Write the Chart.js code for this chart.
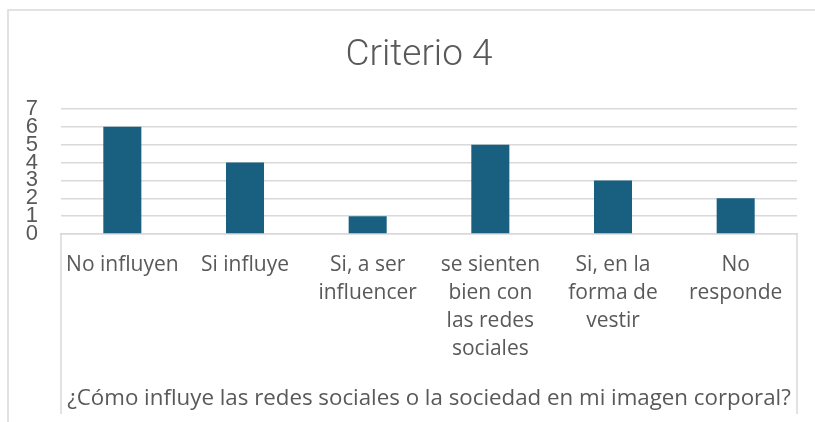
<!DOCTYPE html>
<html>
<head>
<meta charset="utf-8">
<script src="https://cdn.jsdelivr.net/npm/chart.js@4/dist/chart.umd.min.js"></script>
<style>
html, body { margin: 0; padding: 0; background: #fff; }
</style>
</head>
<body>
<canvas id="grafic" width="815" height="422"></canvas>
<script>
const titlu = 'Criterio 4';
const categorii = [
    ['No influyen'],
    ['Si influye'],
    ['Si, a ser', 'influencer'],
    ['se sienten', 'bien con', 'las redes', 'sociales'],
    ['Si, en la', 'forma de', 'vestir'],
    ['No', 'responde']
];
const valori = [6, 4, 1, 5, 3, 2];
const ticksY = [0, 1, 2, 3, 4, 5, 6, 7];

const gri = '#d9d9d9';
const text = '#595959';

// chenarul graficului, titlul si caseta etichetelor de categorie
const chenar = {
    id: 'chenar',
    beforeDraw(chart) {
        const ctx = chart.ctx;
        const a = chart.chartArea;
        ctx.save();
        ctx.strokeStyle = gri;
        ctx.lineWidth = 1.5;
        ctx.strokeRect(8, 10, 900, 500);
        ctx.beginPath();
        ctx.moveTo(a.left, a.bottom);
        ctx.lineTo(a.left, 414);
        ctx.moveTo(a.right, a.bottom);
        ctx.lineTo(a.right, 414);
        ctx.stroke();

        ctx.fillStyle = text;
        ctx.font = '300 37px Roboto';
        ctx.textAlign = 'center';
        ctx.textBaseline = 'middle';
        ctx.fillText(titlu, 419, 56);
        ctx.restore();
    }
};

new Chart(document.getElementById('grafic').getContext('2d'), {
    type: 'bar',
    data: {
        labels: categorii,
        datasets: [{
            data: valori,
            backgroundColor: '#185f80',
            borderWidth: 0,
            barPercentage: 0.31,
            categoryPercentage: 1
        }]
    },
    options: {
        responsive: false,
        animation: false,
        layout: { padding: { left: 8, right: 18, top: 109, bottom: 6 } },
        plugins: {
            legend: { display: false },
            tooltip: { enabled: false },
            title: { display: false }
        },
        scales: {
            x: {
                afterFit: s => { s.height = 182; },
                grid: { display: false, drawTicks: false },
                border: { color: gri, width: 1.5 },
                ticks: {
                    color: text,
                    font: { family: 'Open Sans', size: 21, lineHeight: 1.33 },
                    padding: 17,
                    maxRotation: 0,
                    minRotation: 0,
                    autoSkip: false
                },
                title: {
                    display: true,
                    text: '¿Cómo influye las redes sociales o la sociedad en mi imagen corporal?',
                    color: text,
                    font: { family: 'Open Sans', size: 22.3, lineHeight: 1.2 },
                    padding: { top: 10, bottom: 4 }
                }
            },
            y: {
                min: 0,
                max: ticksY[ticksY.length - 1],
                afterFit: s => { s.width = 53; },
                afterBuildTicks: s => { s.ticks = ticksY.map(v => ({ value: v })); },
                grid: { color: gri, lineWidth: 1.5, drawTicks: false },
                border: { display: false },
                ticks: {
                    color: text,
                    font: { family: 'Liberation Sans', size: 22 },
                    padding: 23,
                    autoSkip: false
                }
            }
        }
    },
    plugins: [chenar]
});
</script>
</body>
</html>
